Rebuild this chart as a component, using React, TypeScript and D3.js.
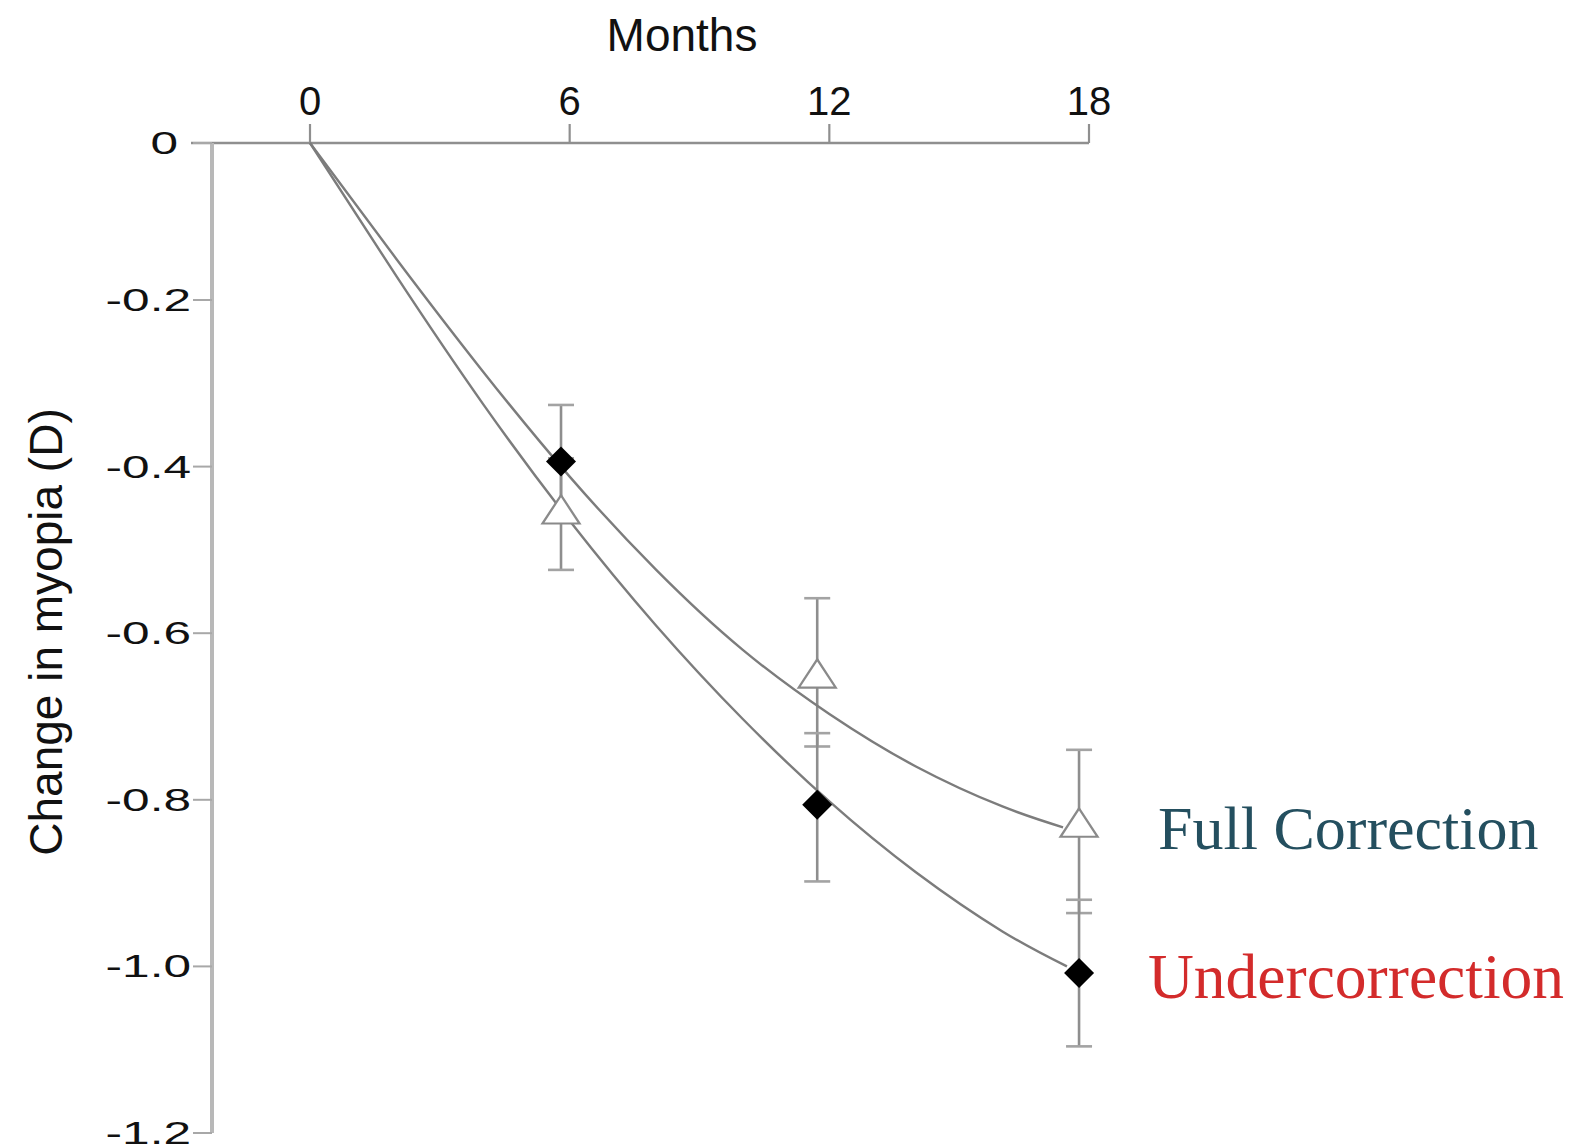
import React from 'react';
import * as d3 from 'd3';

const WIDTH = 1577;
const HEIGHT = 1148;

// Axis ticks
const monthTicks = [0, 6, 12, 18];
const changeTicks = [0, -0.2, -0.4, -0.6, -0.8, -1.0, -1.2];
const changeTickLabels = ['0', '-0.2', '-0.4', '-0.6', '-0.8', '-1.0', '-1.2'];

// Visit times (months) at which refraction was measured
const visitMonths = [5.8, 11.72, 17.77];

// Full correction group: mean change and error-bar ends (D)
const fullMean = [-0.457, -0.654, -0.833];
const fullUpper = [-0.39, -0.558, -0.74];
const fullLower = [-0.524, -0.736, -0.936];

// Undercorrection group: mean change and error-bar ends (D)
const underMean = [-0.394, -0.806, -1.008];
const underUpper = [-0.326, -0.72, -0.92];
const underLower = [-0.462, -0.898, -1.096];

// Fitted trend curves
const fullFitMonths = [0, 2, 4, 6, 8, 10, 12, 14, 16, 17.4];
const fullFit = [0, -0.148, -0.286, -0.412, -0.524, -0.62, -0.697, -0.76, -0.808, -0.833];
const underFitMonths = [0, 2, 4, 6, 8, 10, 12, 14, 16, 17.49];
const underFit = [0, -0.17, -0.325, -0.465, -0.591, -0.703, -0.802, -0.887, -0.958, -1.0];

const legendLabels = ['Full Correction', 'Undercorrection'];

const x = d3.scaleLinear().domain([0, 18]).range([310, 1089]);
const y = d3.scaleLinear().domain([0, -0.2, -1.2]).range([143, 300, 1133]);

const axisX = 212;
const axisY = 143;

const fitLine = d3
  .line<[number, number]>()
  .x((d) => x(d[0]))
  .y((d) => y(d[1]))
  .curve(d3.curveNatural);

const diamondPath = d3.symbol(d3.symbolSquare, 450)() as string;
const trianglePath = d3.symbol(d3.symbolTriangle, 593)() as string;

const CAP = 13;

function ErrorBars({ upper, lower }: { upper: number[]; lower: number[] }) {
  return (
    <g>
      {visitMonths.map((m, i) => (
        <g key={i}>
          <line x1={x(m)} x2={x(m)} y1={y(upper[i])} y2={y(lower[i])} stroke="#8e8e8e" strokeWidth={2.6} />
          <line x1={x(m) - CAP} x2={x(m) + CAP} y1={y(upper[i])} y2={y(upper[i])} stroke="#a3a3a3" strokeWidth={2.6} />
          <line x1={x(m) - CAP} x2={x(m) + CAP} y1={y(lower[i])} y2={y(lower[i])} stroke="#a3a3a3" strokeWidth={2.6} />
        </g>
      ))}
    </g>
  );
}

export default function App() {
  const fullPts = fullFitMonths.map((m, i) => [m, fullFit[i]] as [number, number]);
  const underPts = underFitMonths.map((m, i) => [m, underFit[i]] as [number, number]);

  return (
    <svg
      width={WIDTH}
      height={HEIGHT}
      style={{ position: 'absolute', left: 0, top: 0, background: '#ffffff' }}
      fontFamily="'Liberation Sans', Arial, Helvetica, sans-serif"
    >
      <rect width={WIDTH} height={HEIGHT} fill="#ffffff" />

      {/* x axis along the top */}
      <text x={682} y={51} fontSize={46} textAnchor="middle" fill="#111">
        Months
      </text>
      <line x1={191} x2={x(18)} y1={axisY} y2={axisY} stroke="#8f8f8f" strokeWidth={2.6} />
      {monthTicks.map((t) => (
        <g key={t}>
          <line x1={x(t)} x2={x(t)} y1={axisY} y2={axisY - 19} stroke="#8f8f8f" strokeWidth={2.2} />
          <text x={x(t)} y={115} fontSize={40} textAnchor="middle" fill="#111">
            {t}
          </text>
        </g>
      ))}

      {/* y axis */}
      <line x1={axisX} x2={axisX} y1={axisY} y2={y(-1.2)} stroke="#b8b8b8" strokeWidth={4} />
      {changeTicks.map((t, i) => (
        <g key={t}>
          <line x1={193} x2={axisX} y1={y(t)} y2={y(t)} stroke="#a8a8a8" strokeWidth={2} />
          <text
            transform={`translate(${t === 0 ? 178 : 191}, ${y(t) + 11}) scale(1.55, 1)`}
            fontSize={32}
            textAnchor="end"
            fill="#111"
          >
            {changeTickLabels[i]}
          </text>
        </g>
      ))}
      <text transform="translate(62, 632) rotate(-90)" fontSize={46} textAnchor="middle" fill="#111">
        Change in myopia (D)
      </text>

      {/* error bars */}
      <ErrorBars upper={fullUpper} lower={fullLower} />
      <ErrorBars upper={underUpper} lower={underLower} />

      {/* fitted curves */}
      <path d={fitLine(fullPts) as string} fill="none" stroke="#7c7c7c" strokeWidth={2.4} />
      <path d={fitLine(underPts) as string} fill="none" stroke="#7c7c7c" strokeWidth={2.4} />

      {/* full correction markers */}
      {visitMonths.map((m, i) => (
        <path
          key={`t${i}`}
          d={trianglePath}
          transform={`translate(${x(m)}, ${y(fullMean[i])}) scale(1, 0.88)`}
          fill="#ffffff"
          stroke="#8a8a8a"
          strokeWidth={2.4}
        />
      ))}

      {/* undercorrection markers */}
      {visitMonths.map((m, i) => (
        <path
          key={`d${i}`}
          d={diamondPath}
          transform={`translate(${x(m)}, ${y(underMean[i])}) rotate(45)`}
          fill="#000000"
        />
      ))}

      {/* series labels */}
      <text x={1158} y={849} fontSize={62} fontFamily="'Liberation Serif', 'Times New Roman', serif" fill="#244f5f">
        {legendLabels[0]}
      </text>
      <text x={1148} y={998} fontSize={63.5} fontFamily="'Liberation Serif', 'Times New Roman', serif" fill="#d32b2b">
        {legendLabels[1]}
      </text>
    </svg>
  );
}
